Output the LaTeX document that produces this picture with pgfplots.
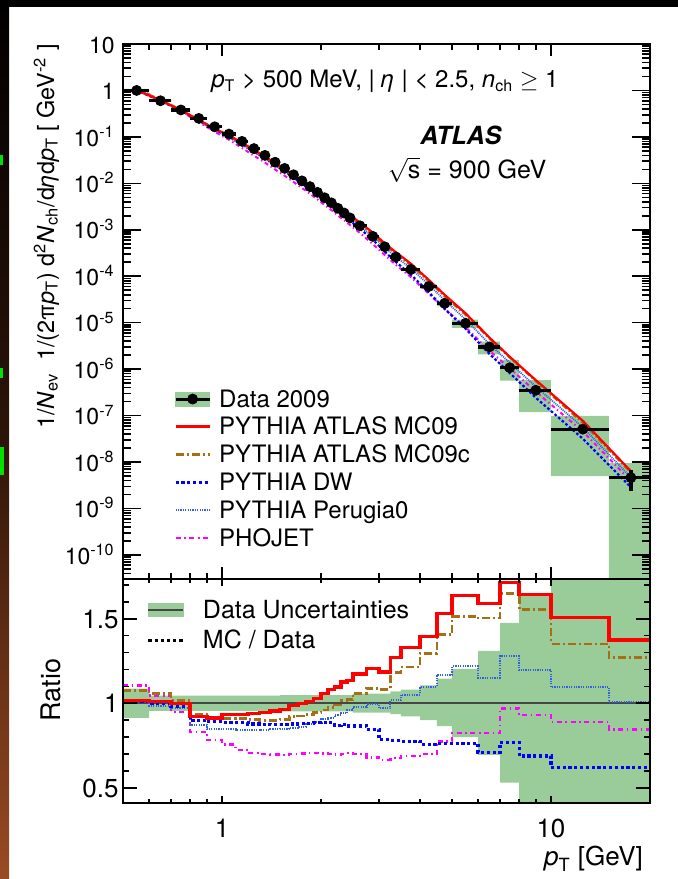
\documentclass[border=0pt]{standalone}
\usepackage{fontspec}
\setmainfont{TeX Gyre Heros}
\usepackage{pgfplots}
\pgfplotsset{compat=1.18}
\usepackage{pgfplotstable}
\usepgfplotslibrary{fillbetween}

\definecolor{bandgreen}{RGB}{153,204,153}
\definecolor{mcbrown}{RGB}{165,112,20}
\definecolor{dwblue}{RGB}{0,0,255}
\definecolor{perblue}{RGB}{50,95,225}
\definecolor{phomag}{RGB}{255,0,255}
\definecolor{linegray}{RGB}{70,70,70}
\definecolor{stripbrown}{RGB}{155,75,35}
\definecolor{stripdark}{RGB}{45,20,8}
\definecolor{slidegreen}{RGB}{0,225,0}

\pgfplotstableread{
xlo xhi xc y ey ulo uhi mca mcc dw per pho
0.5 0.6 0.55 1.0 0.03 0.913 1.087 1.018 1.076 1.010 1.005 1.106
0.6 0.7 0.65 0.60 0.018 0.955 1.045 1.010 1.057 1.000 0.985 1.047
0.7 0.8 0.75 0.38 0.011 0.955 1.045 0.998 1.016 0.980 0.970 0.949
0.8 0.9 0.85 0.25 0.0075 0.955 1.045 0.920 0.935 0.900 0.870 0.831
0.9 1.0 0.95 0.165 0.005 0.955 1.045 0.912 0.918 0.890 0.845 0.782
1.0 1.1 1.05 0.115 0.0035 0.955 1.045 0.935 0.912 0.885 0.845 0.755
1.1 1.2 1.15 0.080 0.0024 0.955 1.045 0.935 0.910 0.885 0.843 0.724
1.2 1.3 1.25 0.056 0.0017 0.955 1.045 0.940 0.905 0.877 0.842 0.705
1.3 1.4 1.35 0.040 0.0012 0.955 1.045 0.945 0.900 0.875 0.843 0.700
1.4 1.5 1.45 0.0285 0.0009 0.955 1.045 0.955 0.900 0.873 0.846 0.697
1.5 1.6 1.55 0.021 0.0006 0.952 1.048 0.962 0.905 0.873 0.848 0.695
1.6 1.7 1.65 0.0153 0.0005 0.952 1.048 0.985 0.920 0.877 0.855 0.700
1.7 1.8 1.75 0.0113 0.0003 0.952 1.048 0.997 0.925 0.880 0.862 0.703
1.8 1.9 1.85 0.0085 0.0003 0.952 1.048 1.010 0.935 0.882 0.875 0.705
1.9 2.0 1.95 0.0064 0.0002 0.952 1.048 1.027 0.945 0.885 0.890 0.706
2.0 2.1 2.05 0.0049 0.00015 0.952 1.048 1.057 0.960 0.887 0.905 0.703
2.1 2.2 2.15 0.0038 0.00011 0.952 1.048 1.080 0.975 0.885 0.915 0.700
2.2 2.3 2.25 0.0029 0.00009 0.952 1.048 1.096 0.990 0.870 0.930 0.697
2.3 2.4 2.35 0.0023 0.00007 0.952 1.048 1.125 1.015 0.875 0.940 0.700
2.4 2.5 2.45 0.0018 0.00005 0.952 1.048 1.135 1.020 0.865 0.960 0.705
2.5 2.75 2.625 0.00122 0.00004 0.945 1.057 1.172 1.060 0.865 0.977 0.700
2.75 3.0 2.875 7.2e-4 2e-5 0.945 1.057 1.204 1.088 0.845 0.994 0.680
3.0 3.25 3.125 4.3e-4 1.3e-5 0.945 1.057 1.184 1.082 0.785 0.969 0.665
3.25 3.5 3.375 2.6e-4 8e-6 0.935 1.07 1.269 1.184 0.780 1.018 0.675
3.5 4.0 3.75 1.4e-4 4e-6 0.923 1.08 1.331 1.214 0.776 1.051 0.688
4.0 4.5 4.25 6.0e-5 2e-6 0.90 1.106 1.394 1.296 0.757 1.096 0.700
4.5 5.0 4.75 2.6e-5 1e-6 0.865 1.145 1.531 1.406 0.763 1.169 0.773
5 6 5.5 9.7e-6 4e-7 0.80 1.204 1.639 1.512 0.763 1.218 0.825
6 7 6.5 3.0e-6 1.5e-7 0.694 1.31 1.590 1.504 0.708 1.151 0.825
7 8 7.5 1.07e-6 7e-8 0.53 1.475 1.714 1.649 0.767 1.280 0.969
8 10 9 3.5e-7 3e-8 0.34 1.65 1.645 1.553 0.688 1.194 0.930
10 15 12.5 5.1e-8 6e-9 0.098 1.92 1.508 1.351 0.622 1.096 0.890
15 20 17.5 4.6e-9 2.2e-9 0.001 2.07 1.375 1.270 0.622 1.008 0.845
20 20 20 4.6e-9 2.2e-9 0.001 2.07 1.375 1.270 0.622 1.008 0.845
}\bins

\begin{document}
\begin{tikzpicture}
% page background (outside the axes only)
\shade[top color=black, bottom color=stripbrown, middle color=stripdark] (0,0) rectangle (4.5pt,439.5pt);
\fill[black] (0,436pt) rectangle (339pt,439.5pt);
\fill[slidegreen] (0,357pt) rectangle (1.6pt,362pt);
\fill[slidegreen] (0,250.5pt) rectangle (1.6pt,255.5pt);
\fill[slidegreen] (0,202pt) rectangle (2.2pt,216pt);

% ---------------- main panel ----------------
\begin{axis}[
  at={(61.5pt,150pt)}, anchor=south west,
  scale only axis, width=263.5pt, height=267.5pt,
  xmode=log, ymode=log, xmin=0.5, xmax=20, ymin=3.03e-11, ymax=10,
  axis on top, axis line style={line width=0.9pt},
  tick align=inside, tick pos=both,
  tick style={black, line width=0.8pt},
  every major x tick/.append style={/pgfplots/major tick length=6pt},
  every minor x tick/.append style={/pgfplots/minor tick length=3.2pt},
  every major y tick/.append style={/pgfplots/major tick length=9pt},
  every minor y tick/.append style={/pgfplots/minor tick length=4pt},
  xtick={1,10}, xticklabels={},
  minor xtick={0.6,0.7,0.8,0.9,2,3,4,5,6,7,8,9},
  ytick={1e-10,1e-9,1e-8,1e-7,1e-6,1e-5,1e-4,1e-3,1e-2,1e-1,1,10},
  yticklabels={10\textsuperscript{-10},10\textsuperscript{-9},10\textsuperscript{-8},10\textsuperscript{-7},10\textsuperscript{-6},10\textsuperscript{-5},10\textsuperscript{-4},10\textsuperscript{-3},10\textsuperscript{-2},10\textsuperscript{-1},1,10},
  minor ytick={4e-11,5e-11,6e-11,7e-11,8e-11,9e-11,
    2e-10,3e-10,4e-10,5e-10,6e-10,7e-10,8e-10,9e-10,
    2e-9,3e-9,4e-9,5e-9,6e-9,7e-9,8e-9,9e-9,
    2e-8,3e-8,4e-8,5e-8,6e-8,7e-8,8e-8,9e-8,
    2e-7,3e-7,4e-7,5e-7,6e-7,7e-7,8e-7,9e-7,
    2e-6,3e-6,4e-6,5e-6,6e-6,7e-6,8e-6,9e-6,
    2e-5,3e-5,4e-5,5e-5,6e-5,7e-5,8e-5,9e-5,
    2e-4,3e-4,4e-4,5e-4,6e-4,7e-4,8e-4,9e-4,
    2e-3,3e-3,4e-3,5e-3,6e-3,7e-3,8e-3,9e-3,
    2e-2,3e-2,4e-2,5e-2,6e-2,7e-2,8e-2,9e-2,
    0.2,0.3,0.4,0.5,0.6,0.7,0.8,0.9,
    2,3,4,5,6,7,8,9},
  yticklabel style={font=\fontsize{11.5}{13}\selectfont, anchor=base east, inner sep=0pt, xshift=-4pt, yshift=-4.6pt},
  ylabel={1/\textit{N}\textsubscript{ev}\ \ 1/(2π\textit{p}\textsubscript{T}) d\textsuperscript{2}\textit{N}\textsubscript{ch}/d\textit{η}d\textit{p}\textsubscript{T} [ GeV\textsuperscript{-2} ]},
  every axis y label/.style={at={(axis description cs:-0.1309,0.64)}, rotate=90, anchor=base, font=\fontsize{11.7}{14}\selectfont},
  legend cell align=left,
  legend image code/.code={\draw[#1] (0pt,0pt) -- (17pt,0pt);},
  legend style={at={(0.0968,0.3607)}, anchor=north west, draw=none, fill=none,
    inner sep=0pt, outer sep=0pt, row sep=0.9pt, column sep=4pt,
    font=\fontsize{12}{14}\selectfont,
    nodes={inner sep=0pt, text height=10.5pt, text depth=2.5pt}},
]
% uncertainty boxes
\addplot[name path=mup, draw=none, const plot mark left, forget plot]
  table[x=xlo, y expr=\thisrow{y}*\thisrow{uhi}]{\bins};
\addplot[name path=mlo, draw=none, const plot mark left, forget plot]
  table[x=xlo, y expr=\thisrow{y}*\thisrow{ulo}]{\bins};
\addplot[bandgreen, draw=none, forget plot] fill between[of=mup and mlo];
% MC curves
\addplot[phomag, line width=1pt, dash pattern=on 2pt off 1.5pt on 0.7pt off 1.5pt, forget plot, skip coords between index={33}{34}]
  table[x=xc, y expr=\thisrow{y}*\thisrow{pho}]{\bins};
\addplot[perblue, line width=0.9pt, dash pattern=on 0.5pt off 0.5pt, forget plot, skip coords between index={33}{34}]
  table[x=xc, y expr=\thisrow{y}*\thisrow{per}]{\bins};
\addplot[dwblue, line width=1.1pt, dash pattern=on 1.3pt off 1.1pt, forget plot, skip coords between index={33}{34}]
  table[x=xc, y expr=\thisrow{y}*\thisrow{dw}]{\bins};
\addplot[mcbrown, line width=1pt, dash pattern=on 3pt off 1.2pt on 0.8pt off 1.2pt, forget plot, skip coords between index={33}{34}]
  table[x=xc, y expr=\thisrow{y}*\thisrow{mcc}]{\bins};
\addplot[red, line width=1.1pt, forget plot, skip coords between index={33}{34}]
  table[x=xc, y expr=\thisrow{y}*\thisrow{mca}]{\bins};
% data
\addplot[black, only marks, mark=*, mark size=2.5pt, mark options={fill=black}, forget plot,
  skip coords between index={33}{34},
  error bars/.cd, x dir=both, x explicit, y dir=both, y explicit, error mark=none,
  error bar style={line width=1.6pt, black}]
  table[x=xc, y=y, x error plus expr=\thisrow{xhi}-\thisrow{xc}, x error minus expr=\thisrow{xc}-\thisrow{xlo}, y error=ey]{\bins};

% legend
\addlegendimage{legend image code/.code={
  \fill[bandgreen] (0pt,-3.5pt) rectangle (17pt,3.5pt);
  \draw[black, line width=1.5pt] (0pt,0pt) -- (17pt,0pt);
  \fill[black] (8.5pt,0pt) circle (2.5pt);}}
\addlegendentry{Data 2009}
\addlegendimage{red, line width=1.6pt}
\addlegendentry{PYTHIA ATLAS MC09}
\addlegendimage{mcbrown, line width=1.4pt, dash pattern=on 4pt off 1.5pt on 1pt off 1.5pt}
\addlegendentry{PYTHIA ATLAS MC09c}
\addlegendimage{dwblue, line width=1.6pt, dash pattern=on 1.6pt off 1.3pt}
\addlegendentry{PYTHIA DW}
\addlegendimage{perblue, line width=1.1pt, dash pattern=on 0.6pt off 0.6pt}
\addlegendentry{PYTHIA Perugia0}
\addlegendimage{phomag, line width=1.4pt, dash pattern=on 2.5pt off 1.8pt on 0.8pt off 1.8pt}
\addlegendentry{PHOJET}

% texts
\node[anchor=base, font=\fontsize{12}{14}\selectfont] at (rel axis cs:0.497,0.918)
  {\textit{p}\textsubscript{T} > 500 MeV, | \textit{η} | < 2.5, \textit{n}\textsubscript{ch} $\geq$ 1};
\node[anchor=base, font=\fontsize{12.5}{15}\selectfont\bfseries\itshape] at (rel axis cs:0.641,0.813) {ATLAS};
\node[anchor=base, font=\fontsize{12.5}{15}\selectfont] at (rel axis cs:0.653,0.7495) {$\sqrt{\mbox{s}}$ = 900 GeV};
\end{axis}

% ---------------- ratio panel ----------------
\begin{axis}[
  at={(61.5pt,38pt)}, anchor=south west,
  scale only axis, width=263.5pt, height=112pt,
  xmode=log, xmin=0.5, xmax=20, ymin=0.41, ymax=1.735,
  axis on top, axis line style={line width=0.9pt},
  tick align=inside, tick pos=both,
  tick style={black, line width=0.8pt},
  every major x tick/.append style={/pgfplots/major tick length=3.5pt},
  every minor x tick/.append style={/pgfplots/minor tick length=1.8pt},
  every major y tick/.append style={/pgfplots/major tick length=7pt},
  every minor y tick/.append style={/pgfplots/minor tick length=3pt},
  xtick={1,10}, xticklabels={1,10},
  minor xtick={0.6,0.7,0.8,0.9,2,3,4,5,6,7,8,9},
  ytick={0.5,1,1.5}, yticklabels={0.5,1,1.5},
  minor ytick={0.6,0.7,0.8,0.9,1.1,1.2,1.3,1.4,1.6,1.7},
  xticklabel style={font=\fontsize{13}{15}\selectfont, anchor=base, inner sep=0pt, yshift=-17.5pt},
  yticklabel style={font=\fontsize{13}{15}\selectfont, anchor=base east, inner sep=0pt, xshift=-2pt, yshift=-4.7pt},
  ylabel={Ratio},
  every axis y label/.style={at={(axis description cs:-0.1195,0.504)}, rotate=90, anchor=base, font=\fontsize{13.5}{16}\selectfont},
  xlabel={\textit{p}\textsubscript{T} [GeV]},
  every axis x label/.style={at={(axis description cs:1,-0.28125)}, anchor=base east, font=\fontsize{13}{15}\selectfont},
  legend cell align=left,
  legend style={at={(0.0455,0.924)}, anchor=north west, draw=none, fill=none,
    inner sep=0pt, outer sep=0pt, row sep=1pt, column sep=9pt,
    font=\fontsize{12.5}{15}\selectfont,
    nodes={inner sep=0pt, text height=11pt, text depth=3pt}},
]
\addplot[name path=rup, draw=none, const plot mark left, forget plot] table[x=xlo, y=uhi]{\bins};
\addplot[name path=rlo, draw=none, const plot mark left, forget plot] table[x=xlo, y=ulo]{\bins};
\addplot[bandgreen, draw=none, forget plot] fill between[of=rup and rlo];
\addplot[linegray, line width=1.1pt, forget plot] coordinates {(0.5,1) (20,1)};

\addplot[phomag, line width=1.3pt, dash pattern=on 2.5pt off 1.8pt on 0.8pt off 1.8pt, const plot mark left, forget plot]
  table[x=xlo, y=pho]{\bins};
\addplot[perblue, line width=1pt, dash pattern=on 0.6pt off 0.6pt, const plot mark left, forget plot]
  table[x=xlo, y=per]{\bins};
\addplot[dwblue, line width=1.6pt, dash pattern=on 1.6pt off 1.3pt, const plot mark left, forget plot]
  table[x=xlo, y=dw]{\bins};
\addplot[mcbrown, line width=1.4pt, dash pattern=on 4pt off 1.5pt on 1pt off 1.5pt, const plot mark left, forget plot]
  table[x=xlo, y=mcc]{\bins};
\addplot[red, line width=1.7pt, const plot mark left, forget plot]
  table[x=xlo, y=mca]{\bins};

\addlegendimage{legend image code/.code={
  \fill[bandgreen] (0pt,-3.3pt) rectangle (17.5pt,3.3pt);
  \draw[linegray, line width=0.9pt] (0pt,0pt) -- (17.5pt,0pt);}}
\addlegendentry{Data Uncertainties}
\addlegendimage{legend image code/.code={
  \draw[black, line width=1.5pt, dash pattern=on 1.6pt off 1.5pt] (0pt,0pt) -- (17.5pt,0pt);}}
\addlegendentry{MC / Data}
\end{axis}

\pgfresetboundingbox
\useasboundingbox (0,0) rectangle (339pt,439.5pt);
\end{tikzpicture}
\end{document}
